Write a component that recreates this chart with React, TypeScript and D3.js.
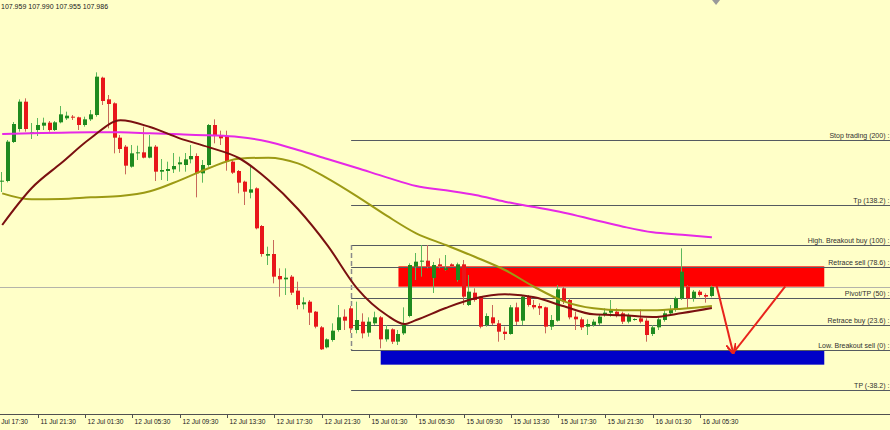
import React from 'react';
import * as d3 from 'd3';

const W = 890;
const H = 430;

// x-axis tick labels (every 8 bars of 30 min); first label sits at bar index -2
const tickLabels = [
  '11 Jul 17:30', '11 Jul 21:30', '12 Jul 01:30', '12 Jul 05:30', '12 Jul 09:30', '12 Jul 13:30',
  '12 Jul 17:30', '12 Jul 21:30', '15 Jul 01:30', '15 Jul 05:30', '15 Jul 09:30', '15 Jul 13:30',
  '15 Jul 17:30', '15 Jul 21:30', '16 Jul 01:30', '16 Jul 05:30',
];
const firstTickBar = -2;
const barsPerTick = 8;

const open = [
  108.302, 108.304, 108.421, 108.460, 108.542, 108.447, 108.457, 108.470, 108.479, 108.457,
  108.480, 108.492, 108.497, 108.495, 108.472, 108.489, 108.502, 108.614, 108.549, 108.537,
  108.434, 108.407, 108.347, 108.387, 108.390, 108.374, 108.407, 108.332, 108.334, 108.339,
  108.354, 108.352, 108.369, 108.379, 108.327, 108.352, 108.472, 108.442, 108.439, 108.362,
  108.334, 108.302, 108.269, 108.282, 108.169, 108.080, 108.085, 108.019, 108.009, 108.017,
  107.975, 107.934, 107.942, 107.912, 107.865, 107.805, 107.827, 107.857, 107.897, 107.922,
  107.857, 107.882, 107.849, 107.877, 107.895, 107.829, 107.859, 107.822, 107.847, 107.899,
  108.047, 108.062, 108.065, 108.013, 108.054, 108.037, 108.054, 108.007, 108.054, 107.932,
  107.969, 107.957, 107.872, 107.895, 107.877, 107.852, 107.845, 107.925, 107.885, 107.957,
  107.932, 107.929, 107.925, 107.867, 107.885, 107.982, 107.947, 107.897, 107.889, 107.867,
  107.872, 107.877, 107.902, 107.909, 107.912, 107.907, 107.882, 107.888, 107.892, 107.885,
  107.845, 107.865, 107.887, 107.907, 107.917, 107.952, 107.987, 107.952, 107.972, 107.962,
  107.959,
];
const high = [
  108.331, 108.427, 108.481, 108.549, 108.552, 108.478, 108.493, 108.494, 108.484, 108.484,
  108.529, 108.512, 108.502, 108.497, 108.497, 108.517, 108.630, 108.617, 108.562, 108.540,
  108.442, 108.412, 108.412, 108.410, 108.467, 108.442, 108.412, 108.370, 108.362, 108.388,
  108.377, 108.388, 108.412, 108.387, 108.367, 108.475, 108.489, 108.455, 108.455, 108.367,
  108.337, 108.305, 108.352, 108.285, 108.172, 108.107, 108.127, 108.042, 108.042, 108.022,
  108.002, 107.955, 107.947, 107.914, 107.869, 107.832, 107.877, 107.932, 107.919, 107.929,
  107.942, 107.907, 107.895, 107.912, 107.899, 107.872, 107.862, 107.857, 107.925, 108.057,
  108.088, 108.112, 108.112, 108.061, 108.072, 108.082, 108.057, 108.059, 108.067, 108.022,
  107.982, 107.959, 107.907, 107.932, 107.887, 107.867, 107.932, 107.939, 107.962, 107.962,
  107.947, 107.937, 107.927, 107.902, 107.992, 107.987, 107.952, 107.912, 107.895, 107.889,
  107.889, 107.902, 107.922, 107.947, 107.922, 107.912, 107.907, 107.892, 107.919, 107.892,
  107.872, 107.895, 107.917, 107.932, 107.957, 108.102, 107.992, 107.977, 107.977, 107.967,
  107.990,
];
const low = [
  108.271, 108.300, 108.418, 108.452, 108.452, 108.430, 108.439, 108.457, 108.452, 108.454,
  108.477, 108.487, 108.487, 108.457, 108.467, 108.484, 108.497, 108.532, 108.462, 108.387,
  108.388, 108.324, 108.344, 108.367, 108.372, 108.372, 108.304, 108.307, 108.304, 108.328,
  108.332, 108.332, 108.357, 108.255, 108.299, 108.347, 108.417, 108.412, 108.335, 108.325,
  108.267, 108.232, 108.252, 108.159, 108.077, 108.052, 107.997, 107.957, 107.962, 107.962,
  107.919, 107.919, 107.872, 107.862, 107.797, 107.802, 107.822, 107.852, 107.857, 107.848,
  107.847, 107.832, 107.837, 107.872, 107.802, 107.822, 107.815, 107.812, 107.842, 107.895,
  108.007, 108.017, 108.042, 107.968, 108.042, 108.035, 108.047, 108.002, 107.932, 107.929,
  107.942, 107.862, 107.867, 107.872, 107.822, 107.827, 107.843, 107.872, 107.872, 107.927,
  107.919, 107.902, 107.847, 107.857, 107.882, 107.935, 107.889, 107.857, 107.857, 107.842,
  107.867, 107.872, 107.897, 107.897, 107.895, 107.875, 107.877, 107.885, 107.877, 107.822,
  107.839, 107.857, 107.882, 107.902, 107.912, 107.947, 107.922, 107.942, 107.957, 107.939,
  107.955,
];
const close = [
  108.305, 108.422, 108.475, 108.542, 108.460, 108.450, 108.472, 108.479, 108.457, 108.480,
  108.504, 108.500, 108.494, 108.472, 108.489, 108.504, 108.617, 108.544, 108.535, 108.434,
  108.400, 108.350, 108.387, 108.390, 108.374, 108.407, 108.332, 108.337, 108.340, 108.349,
  108.360, 108.369, 108.379, 108.327, 108.352, 108.472, 108.439, 108.432, 108.362, 108.329,
  108.299, 108.272, 108.279, 108.162, 108.085, 108.085, 108.017, 108.009, 108.014, 107.969,
  107.932, 107.940, 107.909, 107.867, 107.799, 107.829, 107.855, 107.895, 107.885, 107.862,
  107.887, 107.847, 107.882, 107.895, 107.829, 107.859, 107.822, 107.845, 107.872, 108.052,
  108.062, 108.065, 108.047, 108.052, 108.049, 108.042, 108.049, 108.054, 107.957, 107.972,
  107.947, 107.867, 107.899, 107.877, 107.852, 107.845, 107.925, 107.882, 107.957, 107.932,
  107.925, 107.922, 107.867, 107.887, 107.979, 107.942, 107.895, 107.889, 107.865, 107.875,
  107.882, 107.897, 107.909, 107.917, 107.902, 107.882, 107.899, 107.890, 107.882, 107.842,
  107.865, 107.889, 107.907, 107.917, 107.952, 108.032, 107.952, 107.972, 107.962, 107.957,
  107.986,
];

// moving averages, sampled at bar indices
const maBars = [0, 5, 10, 15, 20, 25, 30, 35, 40, 45, 50, 55, 60, 65, 70, 75, 80, 85, 90, 95, 100, 105, 110, 115, 120];
const magentaMA = [
  108.445, 108.447, 108.449, 108.450, 108.450, 108.447, 108.444, 108.441, 108.436, 108.422,
  108.397, 108.370, 108.343, 108.315, 108.289, 108.276, 108.262, 108.242, 108.226, 108.209,
  108.188, 108.167, 108.150, 108.143, 108.135,
];
const oliveMA = [
  108.267, 108.249, 108.250, 108.255, 108.259, 108.273, 108.306, 108.343, 108.371, 108.374,
  108.357, 108.312, 108.258, 108.200, 108.147, 108.112, 108.076, 108.037, 107.986, 107.943,
  107.922, 107.916, 107.916, 107.921, 107.929,
];
const maroonBars = [0, 5, 10, 15, 20, 25, 30, 35, 40, 45, 50, 55, 60, 65, 68, 70, 75, 80, 85, 90, 95, 100, 105, 110, 115, 120];
const maroonMA = [
  108.172, 108.283, 108.358, 108.433, 108.486, 108.466, 108.432, 108.405, 108.373, 108.307,
  108.220, 108.111, 107.982, 107.902, 107.875, 107.887, 107.923, 107.952, 107.964, 107.955,
  107.928, 107.904, 107.901, 107.896, 107.908, 107.923,
];

// Fibonacci object
const fibHigh = 108.112;
const fibLow = 107.797;
const fibStartBar = 59;
const fibRatios = [2, 1.382, 1, 0.786, 0.5, 0.236, 0, -0.382];
const fibNames = [
  'Stop trading (200)', 'Tp (138.2)', 'High. Breakout buy (100)', 'Retrace sell (78.6)',
  'Pivot/TP (50)', 'Retrace buy (23.6)', 'Low. Breakout sell (0)', 'TP (-38.2)',
];

// zones (bar range, price range)
const sellZone = { fromBar: 67, toBar: 139, top: 108.048, bottom: 107.987 };
const buyZone = { fromBar: 64, toBar: 139, top: 107.797, bottom: 107.753 };

// projected path arrow
const arrowBars = [120.8, 123.6, 132.4];
const arrowPrices = [107.990, 107.788, 107.988];

const bidPrice = 107.986;

export default function App() {
  const x = d3.scaleLinear().domain([0, 120]).range([2.2, 711.9]);
  const y = d3.scaleLinear().domain([107.617, 108.847]).range([410, 0]);

  const fmt = (v: number) => v.toFixed(3);
  const last = open.length - 1;
  const header = `${fmt(open[last])} ${fmt(high[last])} ${fmt(low[last])} ${fmt(close[last])}`;

  const lineGen = d3
    .line<[number, number]>()
    .x((d) => x(d[0]))
    .y((d) => y(d[1]))
    .curve(d3.curveMonotoneX);

  const magPath = lineGen(maBars.map((b, k) => [b, magentaMA[k]]));
  const olivePath = lineGen(maBars.map((b, k) => [b, oliveMA[k]]));
  const maroonPath = lineGen(maroonBars.map((b, k) => [b, maroonMA[k]]));

  const fibX0 = x(fibStartBar);
  const fibLevels = fibRatios.map((r) => fibLow + r * (fibHigh - fibLow));

  const font = "'Liberation Sans', Arial, sans-serif";

  const ap = arrowBars.map((b, k) => [x(b), y(arrowPrices[k])]);

  return (
    <svg
      width={W}
      height={H}
      style={{ position: 'absolute', left: 0, top: 0, display: 'block' }}
      xmlns="http://www.w3.org/2000/svg"
    >
      <defs>
        <marker id="ah" viewBox="0 0 10 10" refX="9" refY="5" markerWidth="5" markerHeight="5" orient="auto">
          <path d="M0,0 L10,5 L0,10" fill="none" stroke="#e8231c" strokeWidth="2.2" />
        </marker>
      </defs>
      <rect x={0} y={0} width={W} height={H} fill="#ffffc8" />

      {/* zones */}
      <rect
        x={x(sellZone.fromBar)}
        y={y(sellZone.top)}
        width={x(sellZone.toBar) - x(sellZone.fromBar)}
        height={y(sellZone.bottom) - y(sellZone.top)}
        fill="#ff0000"
      />
      <rect
        x={x(buyZone.fromBar)}
        y={y(buyZone.top)}
        width={x(buyZone.toBar) - x(buyZone.fromBar)}
        height={y(buyZone.bottom) - y(buyZone.top)}
        fill="#0000c8"
      />

      {/* fib levels */}
      {fibLevels.map((p, k) => {
        const yy = Math.round(y(p)) + 0.5;
        return (
          <g key={k}>
            <line x1={fibX0} x2={W} y1={yy} y2={yy} stroke="#555a60" strokeWidth={1} />
            <text x={885.5} y={yy - 2.5} fontSize={7} fontFamily={font} textAnchor="end" fill="#303030">
              {fibNames[k]}
            </text>
            <text x={887.5} y={yy - 2.5} fontSize={7} fontFamily={font} fill="#303030">
              :
            </text>
          </g>
        );
      })}
      <line
        x1={Math.round(fibX0) + 0.5}
        x2={Math.round(fibX0) + 0.5}
        y1={y(fibHigh)}
        y2={y(fibLow)}
        stroke="#8a8a8a"
        strokeWidth={1.5}
        strokeDasharray="5,3"
      />

      {/* bid line */}
      <line x1={0} x2={W} y1={Math.round(y(bidPrice)) + 0.5} y2={Math.round(y(bidPrice)) + 0.5} stroke="#b4b4aa" strokeWidth={1} />

      {/* candles */}
      {open.map((o, i) => {
        const c = close[i];
        const up = c >= o;
        const rx = Math.round(x(i));
        const yt = y(Math.max(o, c));
        const yb = y(Math.min(o, c));
        const bodyColor = up ? '#1f8a1f' : '#e8161a';
        const wickColor = up ? '#5cb85c' : '#c8685a';
        return (
          <g key={i}>
            <rect x={rx - 1} y={y(high[i])} width={1} height={Math.max(1, y(low[i]) - y(high[i]))} fill={wickColor} />
            <rect x={rx - 2} y={yt} width={4} height={Math.max(1, yb - yt)} fill={bodyColor} />
          </g>
        );
      })}

      {/* moving averages */}
      <path d={magPath || ''} fill="none" stroke="#e628e6" strokeWidth={2} />
      <path d={olivePath || ''} fill="none" stroke="#9c9a14" strokeWidth={2} />
      <path d={maroonPath || ''} fill="none" stroke="#7a1010" strokeWidth={2} />

      {/* projection arrow */}
      <line x1={ap[0][0]} y1={ap[0][1]} x2={ap[1][0]} y2={ap[1][1]} stroke="#e8231c" strokeWidth={2} markerEnd="url(#ah)" />
      <line x1={ap[1][0]} y1={ap[1][1]} x2={ap[2][0]} y2={ap[2][1]} stroke="#e8231c" strokeWidth={2} />

      {/* chart shift marker */}
      <path d={`M${x(120.7) - 4},0 L${x(120.7) + 4},0 L${x(120.7)},5 Z`} fill="#9a9a9a" />

      {/* header */}
      <text x={1} y={9} fontSize={7} fontFamily={font} fill="#202020">
        {header}
      </text>

      {/* x axis */}
      <line x1={0} x2={W} y1={414.5} y2={414.5} stroke="#505050" strokeWidth={1} />
      {tickLabels.map((t, k) => {
        const tx = Math.round(x(firstTickBar + k * barsPerTick)) + 0.5;
        return (
          <g key={t}>
            <line x1={tx} x2={tx} y1={414} y2={418} stroke="#505050" strokeWidth={1} />
            <text x={tx + 2} y={424} fontSize={6.6} fontFamily={font} fill="#202020">
              {t}
            </text>
          </g>
        );
      })}
    </svg>
  );
}
